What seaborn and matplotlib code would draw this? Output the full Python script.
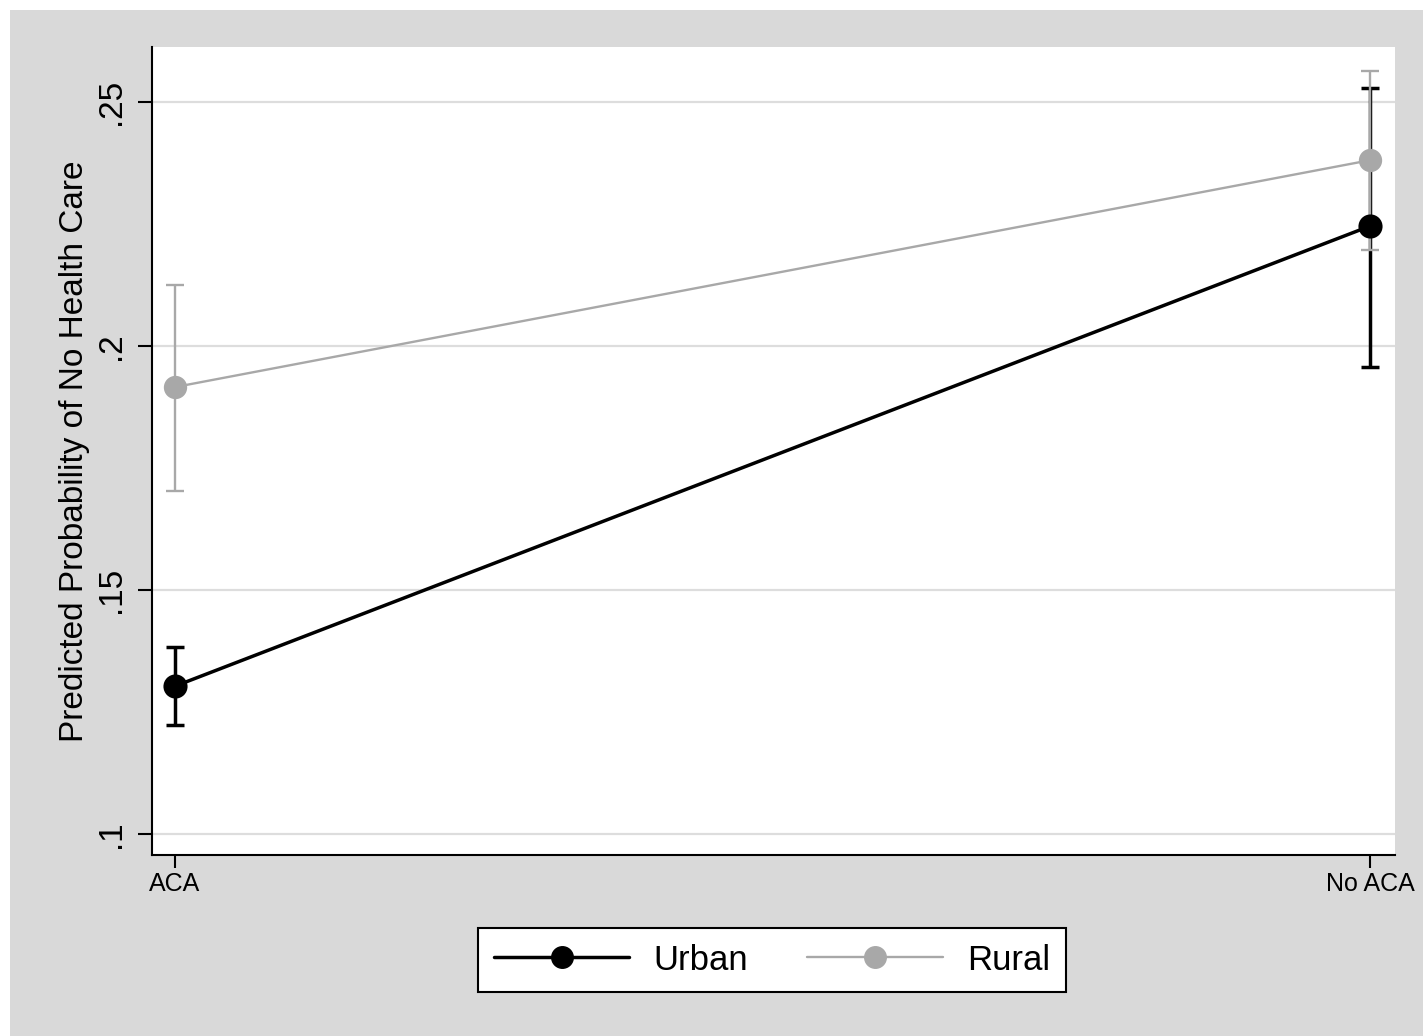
import numpy as np
import pandas as pd
import matplotlib
matplotlib.use('Agg')
import matplotlib.pyplot as plt
from matplotlib.lines import Line2D
from matplotlib.patches import Rectangle
import seaborn as sns

# Predicted probabilities with 95% CIs
periods = ['ACA', 'No ACA']
urban_prob = [0.1303, 0.2246]
urban_low = [0.1223, 0.1957]
urban_high = [0.1383, 0.2529]
rural_prob = [0.1916, 0.2381]
rural_low = [0.1703, 0.2197]
rural_high = [0.2125, 0.2564]
y_ticks = [0.10, 0.15, 0.20, 0.25]
y_tick_labels = ['.1', '.15', '.2', '.25']

urban_df = pd.DataFrame({'period': periods, 'prob': urban_prob})
rural_df = pd.DataFrame({'period': periods, 'prob': rural_prob})

sns.set_theme(style='white')
plt.rcParams['font.family'] = ['Liberation Sans', 'DejaVu Sans']
plt.rcParams['text.color'] = 'black'
plt.rcParams['axes.labelcolor'] = 'black'
plt.rcParams['xtick.color'] = 'black'
plt.rcParams['ytick.color'] = 'black'

bg = '#d9d9d9'
rural_col = '#a8a8a8'

fig = plt.figure(figsize=(14.23, 10.36), dpi=100, facecolor='white')
fig.patches.append(Rectangle((10 / 1423, 0), 1, 1 - 10 / 1036, transform=fig.transFigure,
                             facecolor=bg, edgecolor='none', zorder=-10))
ax = fig.add_axes([152 / 1423, 181 / 1036, 1243 / 1423, 808 / 1036])
ax.set_facecolor('white')

# confidence intervals first, lines and markers on top
x = np.arange(len(periods))
ax.errorbar(x, urban_prob,
            yerr=[np.subtract(urban_prob, urban_low), np.subtract(urban_high, urban_prob)],
            fmt='none', ecolor='black', elinewidth=2.5, capsize=6.5, capthick=2.5, zorder=3)
ax.errorbar(x, rural_prob,
            yerr=[np.subtract(rural_prob, rural_low), np.subtract(rural_high, rural_prob)],
            fmt='none', ecolor=rural_col, elinewidth=1.7, capsize=6.5, capthick=1.7, zorder=3.1)

sns.pointplot(data=urban_df, x='period', y='prob', order=periods, color='black',
              errorbar=None, markers='o', linewidth=2.5, markersize=15.5, ax=ax, zorder=4)
sns.pointplot(data=rural_df, x='period', y='prob', order=periods, color=rural_col,
              errorbar=None, markers='o', linewidth=1.7, markersize=15.5, ax=ax, zorder=4.1)

ax.set_xlim(-0.0192, 1.0209)
ax.set_ylim(0.0957, 0.2613)
ax.set_yticks(y_ticks)
ax.set_yticklabels(y_tick_labels, rotation=90, va='center', fontsize=24)
ax.set_xticks(x)
ax.set_xticklabels(periods, fontsize=18)
ax.grid(axis='y', color='#dddddd', linewidth=1.6)
ax.grid(axis='x', visible=False)
ax.set_axisbelow(True)

for side in ['top', 'right']:
    ax.spines[side].set_visible(False)
for side in ['left', 'bottom']:
    ax.spines[side].set_color('black')
    ax.spines[side].set_linewidth(1.5)
ax.tick_params(axis='y', left=True, length=10, width=1.5, color='black', pad=8)
ax.tick_params(axis='x', bottom=True, length=9, width=1.5, color='black', pad=3)

ax.set_xlabel('')
ax.set_ylabel('Predicted Probability of No Health Care', fontsize=24)
ax.yaxis.set_label_coords(-0.05, 0.5)

handles = [
    Line2D([], [], color='black', linewidth=2.5, marker='o', markersize=15.5),
    Line2D([], [], color=rural_col, linewidth=1.7, marker='o', markersize=15.5),
]
leg = fig.legend(handles, ['Urban', 'Rural'], loc='center', bbox_to_anchor=(772 / 1423, 1 - 960 / 1036),
                 ncol=2, fontsize=25, frameon=True, fancybox=False, edgecolor='black', facecolor='white',
                 framealpha=1, handlelength=3.9, handletextpad=0.7, columnspacing=1.7, borderpad=0.45)
leg.get_frame().set_linewidth(1.5)

fig.savefig('out.png', dpi=100, facecolor=fig.get_facecolor())
